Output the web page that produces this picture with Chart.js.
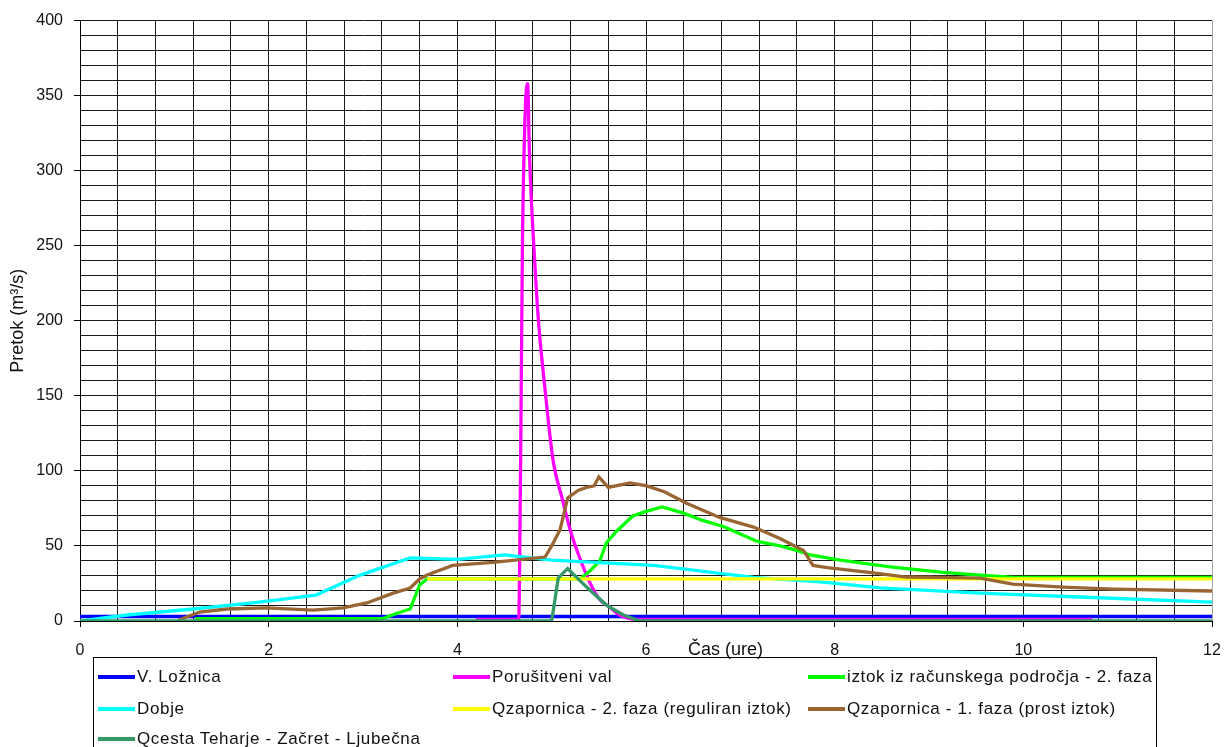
<!DOCTYPE html>
<html>
<head>
<meta charset="utf-8">
<script src="https://cdn.jsdelivr.net/npm/chart.js@4.4.1/dist/chart.umd.min.js"></script>
<style>
  html, body { margin: 0; padding: 0; background: #fff; }
  #wrap { position: relative; width: 1225px; height: 747px; overflow: hidden; }
  #legend {
    position: absolute; left: 93px; top: 657px; width: 1064px; height: 120px;
    border: 1px solid #000; box-sizing: border-box;
    font-family: "Liberation Sans", Arial, sans-serif; font-size: 17px; color: #111;
  }
  #legend .item { position: absolute; display: flex; align-items: center; white-space: nowrap; letter-spacing: 0.65px; }
  #legend .swatch { width: 37px; height: 4px; margin-right: 2px; }
</style>
</head>
<body>
<div id="wrap">
  <canvas id="flowChart" width="1225" height="747"></canvas>
  <div id="legend"></div>
</div>
<script>
// hydrographs, time in hours, flow in m3/s
const seriesNames = [
  "V. Ložnica",
  "Porušitveni val",
  "iztok iz računskega področja - 2. faza",
  "Dobje",
  "Qzapornica - 2. faza (reguliran iztok)",
  "Qzapornica - 1. faza (prost iztok)",
  "Qcesta Teharje - Začret - Ljubečna"
];
const seriesColors = ["#0000FF", "#FF00FF", "#00FF00", "#00FFFF", "#FFFF00", "#996633", "#339966"];

const loznicaT = [0, 12];
const loznicaQ = [3, 3];

const valT = [4.2, 4.65, 4.67, 4.69, 4.72, 4.745, 4.765, 4.82, 4.86, 4.92, 4.97, 5.02, 5.11, 5.2, 5.28, 5.41, 5.5, 5.62, 5.72, 5.8, 5.92, 10.73];
const valQ = [1, 1, 100, 250, 340, 358, 310, 240, 200, 160, 130, 105, 82, 60, 45, 25, 15, 9, 4, 2, 1, 1];

const iztokT = [1.22, 2.0, 3.2, 3.4, 3.5, 3.55, 3.6, 3.68, 5.3, 5.4, 5.51, 5.58, 5.69, 5.86, 6.0, 6.17, 6.39, 6.6, 6.82, 7.0, 7.18, 7.42, 7.6, 7.74, 8.06, 8.59, 9.12, 9.54, 9.9, 12];
const iztokQ = [1.5, 1.5, 1.5, 6, 8, 16, 24, 28, 28, 33, 40, 52, 60, 70, 73, 76, 72, 67, 63, 58, 53, 50, 47, 44, 40.6, 36, 32.6, 30.6, 29, 29];

const dobjeT = [0, 0.5, 1.2, 1.9, 2.5, 2.97, 3.5, 4.0, 4.5, 5.0, 6.08, 7.14, 7.85, 8.48, 9.54, 10.6, 12];
const dobjeQ = [0, 4, 8, 12.6, 17.3, 30.6, 42, 41, 44, 40.6, 37, 29, 26, 22, 18.6, 16, 12.6];

const zap2T = [3.68, 12];
const zap2Q = [28, 28];

const zap1T = [1.04, 1.27, 1.56, 1.98, 2.47, 2.79, 3.04, 3.32, 3.5, 3.6, 3.68, 3.95, 4.38, 4.93, 5.0, 5.09, 5.17, 5.28, 5.37, 5.45, 5.5, 5.6, 5.83, 6.01, 6.2, 6.43, 6.78, 7.14, 7.42, 7.67, 7.77, 7.92, 8.41, 8.76, 9.12, 9.54, 9.89, 10.42, 10.95, 12];
const zap1Q = [0.5, 6, 8, 8.7, 7.3, 8.7, 12, 18.6, 22, 28, 30.6, 37, 39, 42.6, 50, 61, 82, 87, 89, 90, 96, 89, 92, 90, 86, 78.5, 69, 62.6, 55, 47, 37, 35.5, 32, 29.3, 29, 28.6, 24.6, 22.6, 21.3, 20];

const cestaT = [0, 5.0, 5.07, 5.17, 5.37, 5.58, 5.76, 5.94, 12];
const cestaQ = [0, 0, 28.6, 35, 22.6, 10.6, 4, 0, 0];

const allT = [loznicaT, valT, iztokT, dobjeT, zap2T, zap1T, cestaT];
const allQ = [loznicaQ, valQ, iztokQ, dobjeQ, zap2Q, zap1Q, cestaQ];

const datasets = seriesNames.map((name, i) => ({
  label: name,
  data: allT[i].map((t, k) => ({ x: t, y: allQ[i][k] })),
  borderColor: seriesColors[i],
  backgroundColor: seriesColors[i],
  borderWidth: 3.3,
  pointRadius: 0,
  // the dam-break wave is a smooth curve
  cubicInterpolationMode: i === 1 ? "monotone" : "default",
  tension: 0,
  fill: false,
  // later series sit on top
  order: seriesNames.length - i,
}));

const isMajor = (v, step) => Math.abs(v / step - Math.round(v / step)) < 1e-6;
const FONT = "'Liberation Sans', Arial, sans-serif";

// x axis title sits in the tick label row, right of the "6" label
const xTitlePlugin = {
  id: "xTitle",
  afterDraw(chart) {
    const ctx = chart.ctx;
    const x = chart.scales.x.getPixelForValue(6) + 42;
    const y = chart.chartArea.bottom + 29;
    ctx.save();
    ctx.font = "18px " + FONT;
    ctx.fillStyle = "#111";
    ctx.textBaseline = "middle";
    ctx.fillText("Čas (ure)", x, y);
    ctx.restore();
  }
};

const chart = new Chart(document.getElementById("flowChart"), {
  type: "line",
  data: { datasets },
  plugins: [xTitlePlugin],
  options: {
    responsive: false,
    animation: false,
    events: [],
    layout: { padding: { top: 20, right: 13, bottom: 0, left: 0 } },
    plugins: { legend: { display: false }, tooltip: { enabled: false } },
    scales: {
      x: {
        type: "linear",
        min: 0,
        max: 12,
        afterFit: (s) => {
          s.height = 126;
          s.paddingLeft = 0;
          s.paddingRight = 0;
        },
        border: { color: "#000", width: 1 },
        grid: {
          color: (c) => (c.tick && c.tick.value === 12 ? "#a6a6a6" : "#1a1a1a"),
          tickColor: (c) => (c.tick && isMajor(c.tick.value, 2) ? "#000" : "rgba(0,0,0,0)"),
          tickLength: 6,
          lineWidth: 1,
        },
        ticks: {
          stepSize: 0.4,
          autoSkip: false,
          maxRotation: 0,
          padding: 14,
          color: "#111",
          font: { family: FONT, size: 16 },
          callback: (v) => (isMajor(v, 2) ? Math.round(v) : ""),
        },
      },
      y: {
        min: 0,
        max: 400,
        afterFit: (s) => { s.width = 80; },
        border: { color: "#000", width: 1 },
        grid: {
          color: "#1a1a1a",
          tickColor: (c) => (c.tick && isMajor(c.tick.value, 50) ? "#000" : "rgba(0,0,0,0)"),
          tickLength: 6,
          lineWidth: 1,
        },
        ticks: {
          stepSize: 10,
          autoSkip: false,
          padding: 11,
          color: "#111",
          font: { family: FONT, size: 16 },
          callback: (v) => (isMajor(v, 50) ? v : ""),
        },
        title: {
          display: true,
          text: "Pretok (m³/s)",
          color: "#111",
          font: { family: FONT, size: 18 },
          padding: { top: 7, bottom: 0 },
        },
      },
    },
  },
});

// legend box in three columns below the plot
const legendBox = document.getElementById("legend");
const colLeft = [4, 359, 714];
const rowMid = [19, 51, 81];
chart.data.datasets.forEach((ds, i) => {
  const item = document.createElement("div");
  item.className = "item";
  item.style.left = colLeft[i % 3] + "px";
  item.style.top = (rowMid[Math.floor(i / 3)] - 11) + "px";
  item.style.height = "22px";
  item.innerHTML = `<span class="swatch" style="background:${ds.borderColor}"></span><span>${ds.label}</span>`;
  legendBox.appendChild(item);
});
</script>
</body>
</html>
